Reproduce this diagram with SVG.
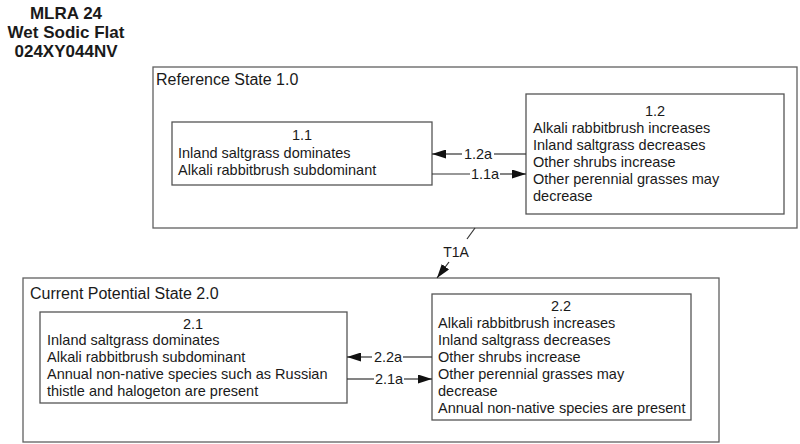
<svg xmlns="http://www.w3.org/2000/svg" width="800" height="444" viewBox="0 0 800 444">
<style>
text{font-family:"Liberation Sans",Arial,sans-serif;fill:#1a1a1a}
.t{font-size:17px;font-weight:bold;text-anchor:middle}
.c{fill:#fff;stroke:#606060;stroke-width:1.3}
.b{fill:#fff;stroke:#555;stroke-width:1.3}
.cl{font-size:16px}
.bt{font-size:14.5px}
.m{text-anchor:middle}
.al{font-size:14.5px;text-anchor:middle}
.ln{stroke:#333;stroke-width:1.2;fill:none}
</style>
<defs>
<marker id="ah" viewBox="0 0 14 9" refX="14" refY="4.5" markerWidth="14" markerHeight="9" markerUnits="userSpaceOnUse" orient="auto">
<path d="M0,0 L14,4.5 L0,9 z" fill="#111"/>
</marker>
</defs>
<g id="title">
<text class="t" x="66" y="19">MLRA 24</text>
<text class="t" x="66" y="38">Wet Sodic Flat</text>
<text class="t" x="66" y="57">024XY044NV</text>
</g>
<g id="state1">
<rect class="c" x="153" y="67" width="644" height="161"/>
<text class="cl" x="156" y="85">Reference State 1.0</text>
</g>
<g id="state2">
<rect class="c" x="23" y="278" width="696" height="164"/>
<text class="cl" x="30" y="299">Current Potential State 2.0</text>
</g>
<g id="n11">
<rect class="b" x="172" y="122" width="260" height="63"/>
<text class="bt m" x="302" y="140">1.1</text>
<text class="bt" x="178" y="158">Inland saltgrass dominates</text>
<text class="bt" x="178" y="175">Alkali rabbitbrush subdominant</text>
</g>
<g id="n12">
<rect class="b" x="526" y="94" width="258" height="120"/>
<text class="bt m" x="655" y="116">1.2</text>
<text class="bt" x="533" y="133">Alkali rabbitbrush increases</text>
<text class="bt" x="533" y="150">Inland saltgrass decreases</text>
<text class="bt" x="533" y="167">Other shrubs increase</text>
<text class="bt" x="533" y="184">Other perennial grasses may</text>
<text class="bt" x="533" y="201">decrease</text>
</g>
<g id="n21">
<rect class="b" x="40" y="312" width="307" height="91"/>
<text class="bt m" x="193" y="329">2.1</text>
<text class="bt" x="47" y="345">Inland saltgrass dominates</text>
<text class="bt" x="47" y="362">Alkali rabbitbrush subdominant</text>
<text class="bt" x="47" y="379">Annual non-native species such as Russian</text>
<text class="bt" x="47" y="396">thistle and halogeton are present</text>
</g>
<g id="n22">
<rect class="b" x="432" y="294" width="259" height="126"/>
<text class="bt m" x="561" y="311">2.2</text>
<text class="bt" x="438" y="328">Alkali rabbitbrush increases</text>
<text class="bt" x="438" y="345">Inland saltgrass decreases</text>
<text class="bt" x="438" y="362">Other shrubs increase</text>
<text class="bt" x="438" y="379">Other perennial grasses may</text>
<text class="bt" x="438" y="396">decrease</text>
<text class="bt" x="438" y="413">Annual non-native species are present</text>
</g>
<g id="connectors">
<line class="ln" x1="526" y1="154" x2="494" y2="154"/>
<line class="ln" x1="462" y1="154" x2="432" y2="154" marker-end="url(#ah)"/>
<text class="al" x="478" y="159">1.2a</text>
<line class="ln" x1="432" y1="174" x2="470" y2="174"/>
<line class="ln" x1="500" y1="174" x2="526" y2="174" marker-end="url(#ah)"/>
<text class="al" x="485" y="179">1.1a</text>
<line class="ln" x1="432" y1="357" x2="403" y2="357"/>
<line class="ln" x1="372" y1="357" x2="347" y2="357" marker-end="url(#ah)"/>
<text class="al" x="388" y="362">2.2a</text>
<line class="ln" x1="347" y1="379" x2="374" y2="379"/>
<line class="ln" x1="404" y1="379" x2="432" y2="379" marker-end="url(#ah)"/>
<text class="al" x="389" y="384">2.1a</text>
<line class="ln" x1="475" y1="228" x2="467" y2="239"/>
<line class="ln" x1="449" y1="262" x2="437" y2="278" marker-end="url(#ah)"/>
<text class="al" x="456" y="257" style="font-size:14px">T1A</text>
</g>
</svg>
